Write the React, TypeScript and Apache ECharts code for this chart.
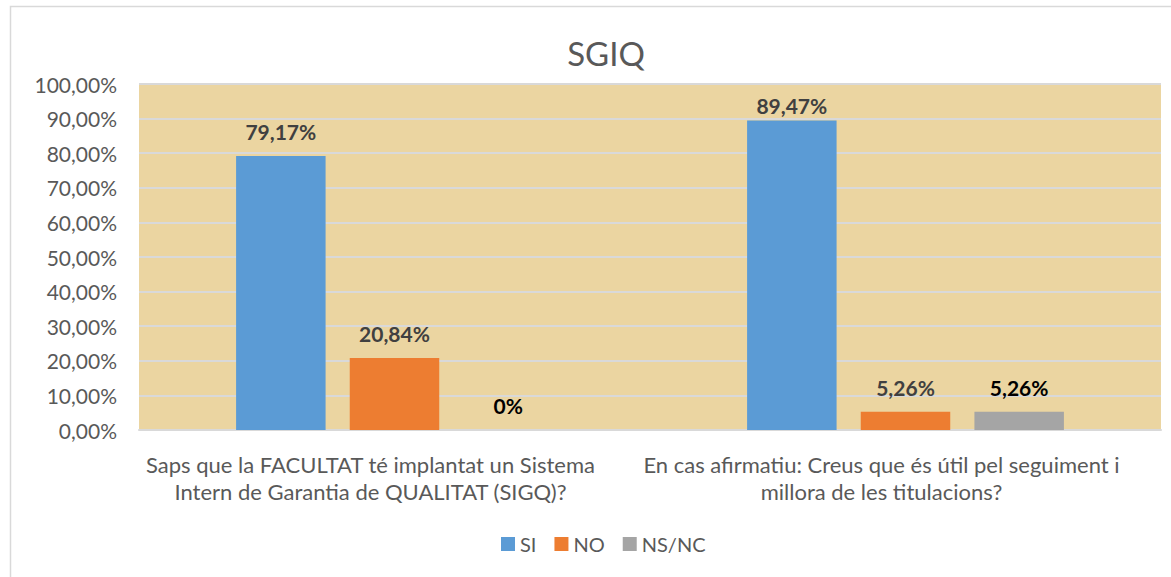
import React, { useEffect, useRef } from "react";
import * as echarts from "echarts";

const categories = [
  "Saps que la FACULTAT té implantat un Sistema\nIntern de Garantia de QUALITAT (SIGQ)?",
  "En cas afirmatiu: Creus que és útil pel seguiment i\nmillora de les titulacions?",
];
const seriesNames = ["SI", "NO", "NS/NC"];
const siValues = [79.17, 89.47];
const noValues = [20.84, 5.26];
const nsncValues = [0, 5.26];
const colors = ["#5B9BD5", "#ED7D31", "#A5A5A5"];
const labelColors = ["#404040", "#404040", "#000000"];

const FONT = "Lato, 'Open Sans', sans-serif";

const fmtPct = (v: number) =>
  v === 0 ? "0%" : v.toFixed(2).replace(".", ",") + "%";

export default function App() {
  const ref = useRef<HTMLDivElement>(null);
  useEffect(() => {
    if (!ref.current) return;
    const chart = echarts.init(ref.current, undefined, { renderer: "svg" });
    const data = [siValues, noValues, nsncValues];
    chart.setOption({
      animation: false,
      backgroundColor: "#ffffff",
      title: {
        text: "SGIQ",
        left: 601,
        top: 31,
        textAlign: "center",
        textStyle: { fontFamily: FONT, fontSize: 33, fontWeight: "normal", color: "#595959" },
      },
      graphic: [
        {
          type: "rect",
          shape: { x: 10.5, y: 6.5, width: 1180, height: 590 },
          style: { fill: "none", stroke: "#d9d9d9", lineWidth: 1.5 },
          silent: true,
          z: -1,
        },
      ],
      legend: {
        bottom: 18,
        left: 496,
        itemWidth: 14,
        itemHeight: 14,
        itemGap: 18,
        icon: "rect",
        textStyle: { fontFamily: FONT, fontSize: 20, color: "#595959" },
        data: seriesNames,
      },
      grid: {
        left: 139,
        right: 10,
        top: 84,
        bottom: 147,
        show: true,
        backgroundColor: "#EBD5A1",
        borderWidth: 0,
      },
      xAxis: {
        type: "category",
        data: categories,
        axisLine: { show: true, lineStyle: { color: "#d9d9d9", width: 2 } },
        axisTick: { show: false },
        axisLabel: {
          fontFamily: FONT,
          fontSize: 22,
          color: "#595959",
          lineHeight: 27,
          margin: 21,
          interval: 0,
          padding: [0, 48, 0, 0],
        },
      },
      yAxis: {
        type: "value",
        min: 0,
        max: 100,
        interval: 10,
        axisLine: { show: false },
        axisTick: { show: false },
        splitLine: { lineStyle: { color: "#d9d9d9", width: 2 } },
        axisLabel: {
          fontFamily: FONT,
          fontSize: 21,
          color: "#595959",
          margin: 22,
          formatter: (v: number) => v.toFixed(2).replace(".", ",") + "%",
        },
      },
      series: seriesNames.map((name, i) => ({
        name,
        type: "bar",
        data: data[i].map((v) =>
          v > 85 ? { value: v, label: { distance: 4 } } : v
        ),
        barGap: "27%",
        barCategoryGap: "38%",
        itemStyle: { color: colors[i] },
        label: {
          show: true,
          position: "top",
          distance: 14,
          fontFamily: FONT,
          fontSize: 21,
          fontWeight: "bold",
          color: labelColors[i],
          formatter: (p: any) => fmtPct(p.value),
        },
      })),
    });
    return () => chart.dispose();
  }, []);
  return (
    <div
      ref={ref}
      style={{ position: "absolute", left: 0, top: 0, width: 1171, height: 577 }}
    />
  );
}
